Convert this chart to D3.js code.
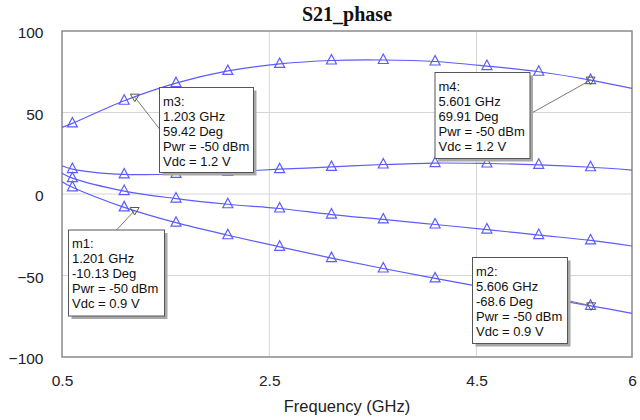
<!DOCTYPE html>
<html>
<head>
<meta charset="utf-8">
<script src="https://cdn.jsdelivr.net/npm/d3@7"></script>
<style>
  html, body { margin: 0; padding: 0; background: #ffffff; }
  svg { display: block; }
</style>
</head>
<body>
<svg id="chart" width="640" height="420"></svg>
<script>
// Frequency grid (GHz) the traces are sampled on
const freqs = [0.5, 0.6, 1.1, 1.6, 2.1, 2.6, 3.1, 3.6, 4.1, 4.6, 5.1, 5.6, 6.0];
// Frequencies that carry a triangle symbol
const symbolFreqs = [0.6, 1.1, 1.6, 2.1, 2.6, 3.1, 3.6, 4.1, 4.6, 5.1, 5.6];

// S21 phase (deg), one trace per bias sweep point
const phaseA = [40.9, 43.3, 57.2, 68.0, 75.5, 79.8, 81.9, 82.2, 81.3, 78.5, 75.0, 69.9, 64.8];
const phaseB = [17.3, 15.3, 12.0, 12.3, 13.6, 15.2, 16.6, 18.1, 19.0, 18.7, 17.9, 16.4, 14.7];
const phaseC = [12.7, 9.7, 1.8, -2.8, -6.3, -8.9, -12.6, -15.6, -18.7, -21.8, -25.2, -28.5, -31.9];
const phaseD = [7.5, 4.1, -8.2, -17.6, -25.3, -32.4, -39.3, -45.7, -51.8, -57.6, -63.2, -68.6, -73.2];
const traces = [phaseA, phaseB, phaseC, phaseD];

// Axis ticks
const xTicks = [0.5, 2.5, 4.5, 6];
const yTicks = [-100, -50, 0, 50, 100];

// Marker readouts
const markerNames = ["m1", "m2", "m3", "m4"];
const markerFreqs = [1.201, 5.606, 1.203, 5.601];
const markerPhases = [-10.13, -68.6, 59.42, 69.91];
const markerPwr = [-50, -50, -50, -50];
const markerVdc = [0.9, 0.9, 1.2, 1.2];

const svg = d3.select("#chart");
const plot = { left: 62, right: 632, top: 31, bottom: 357 };

const x = d3.scaleLinear().domain([0.5, 6]).range([plot.left, plot.right]);
const y = d3.scaleLinear().domain([-100, 100]).range([plot.bottom, plot.top]);

const traceColor = "#5c5cff";

// Title
svg.append("text")
  .attr("x", (plot.left + plot.right) / 2)
  .attr("y", 21)
  .attr("text-anchor", "middle")
  .attr("font-family", "'Liberation Serif', 'Times New Roman', serif")
  .attr("font-weight", "bold")
  .attr("font-size", 20)
  .attr("fill", "#111")
  .text("S21_phase");

// Grid lines at interior ticks
const grid = svg.append("g");
grid.selectAll("line.gx")
  .data(xTicks.filter(t => t > 0.5 && t < 6))
  .join("line")
  .attr("x1", d => x(d)).attr("x2", d => x(d))
  .attr("y1", plot.top).attr("y2", plot.bottom)
  .attr("stroke", "#d6d6d6").attr("stroke-width", 1);
grid.selectAll("line.gy")
  .data(yTicks.filter(t => t > -100 && t < 100))
  .join("line")
  .attr("x1", plot.left).attr("x2", plot.right)
  .attr("y1", d => y(d)).attr("y2", d => y(d))
  .attr("stroke", "#d6d6d6").attr("stroke-width", 1);

// Plot frame
svg.append("rect")
  .attr("x", plot.left).attr("y", plot.top)
  .attr("width", plot.right - plot.left)
  .attr("height", plot.bottom - plot.top)
  .attr("fill", "none")
  .attr("stroke", "#8a8a8a").attr("stroke-width", 1.5);

// Axes: labels only, no tick marks
const xAxis = d3.axisBottom(x).tickValues(xTicks).tickSize(0).tickPadding(0)
  .tickFormat(d3.format("~g"));
const yAxis = d3.axisLeft(y).tickValues(yTicks).tickSize(0).tickPadding(0)
  .tickFormat(d3.format("~g"));

const gx = svg.append("g").attr("transform", `translate(0, ${plot.bottom + 18})`).call(xAxis);
gx.select(".domain").remove();
gx.selectAll("text")
  .attr("font-family", "'Liberation Sans', Arial, sans-serif")
  .attr("font-size", 15.5)
  .attr("fill", "#222")
  .attr("dy", "0.71em");

const gy = svg.append("g").attr("transform", `translate(${plot.left - 18.5}, 0)`).call(yAxis);
gy.select(".domain").remove();
gy.selectAll("text")
  .attr("font-family", "'Liberation Sans', Arial, sans-serif")
  .attr("font-size", 15.5)
  .attr("fill", "#222")
  .attr("dy", "0.45em");

// Axis title
svg.append("text")
  .attr("x", (plot.left + plot.right) / 2)
  .attr("y", 412)
  .attr("text-anchor", "middle")
  .attr("font-family", "'Liberation Sans', Arial, sans-serif")
  .attr("font-size", 16.5)
  .attr("fill", "#222")
  .text("Frequency (GHz)");

// Traces
const line = d3.line()
  .x((d, i) => x(freqs[i]))
  .y(d => y(d))
  .curve(d3.curveCatmullRom.alpha(0.5));

const tracesG = svg.append("g");
tracesG.selectAll("path")
  .data(traces)
  .join("path")
  .attr("d", d => line(d))
  .attr("fill", "none")
  .attr("stroke", traceColor)
  .attr("stroke-width", 1.2);

// Triangle symbols (centroid on the trace)
const tri = "M0,-6 L5,3.5 L-5,3.5 Z";
traces.forEach(vals => {
  tracesG.append("g").selectAll("path")
    .data(symbolFreqs.map(f => ({ f, v: vals[freqs.indexOf(f)] })))
    .join("path")
    .attr("transform", d => `translate(${x(d.f)}, ${y(d.v)})`)
    .attr("d", tri)
    .attr("fill", "none")
    .attr("stroke", traceColor)
    .attr("stroke-width", 1.2);
});

// Marker readout boxes
const boxLayout = {
  m1: { bx: 68.5, by: 230, w: 96, h: 86, ax: 116.5, ay: 230 },
  m2: { bx: 472.5, by: 257.5, w: 95, h: 86, ax: 567.5, ay: 300.5 },
  m3: { bx: 159.5, by: 87.5, w: 94, h: 85, ax: 159.5, ay: 129 },
  m4: { bx: 435, by: 72.5, w: 95, h: 86, ax: 530, ay: 114 }
};

const markersG = svg.append("g");
markerNames.forEach((name, i) => {
  const L = boxLayout[name];
  const px = x(markerFreqs[i]);
  const py = y(markerPhases[i]);
  const g = markersG.append("g");

  // leader line
  g.append("line")
    .attr("x1", L.ax).attr("y1", L.ay)
    .attr("x2", px).attr("y2", py)
    .attr("stroke", "#7a7a7a").attr("stroke-width", 1);

  // inverted triangle at the marker point
  g.append("path")
    .attr("transform", `translate(${px}, ${py})`)
    .attr("d", "M0,4.5 L-4.5,-3 L4.5,-3 Z")
    .attr("fill", "none")
    .attr("stroke", "#555")
    .attr("stroke-width", 1);

  // drop shadow
  g.append("rect")
    .attr("x", L.bx + 3).attr("y", L.by + 3)
    .attr("width", L.w).attr("height", L.h)
    .attr("fill", "#a8a8a8");
  // box
  g.append("rect")
    .attr("x", L.bx).attr("y", L.by)
    .attr("width", L.w).attr("height", L.h)
    .attr("fill", "#ffffff")
    .attr("stroke", "#555").attr("stroke-width", 1);

  const lines = [
    `${name}:`,
    `${markerFreqs[i].toFixed(3)} GHz`,
    `${markerPhases[i]} Deg`,
    `Pwr = ${markerPwr[i]} dBm`,
    `Vdc = ${markerVdc[i]} V`
  ];
  g.append("g").selectAll("text")
    .data(lines)
    .join("text")
    .attr("x", L.bx + 3.5)
    .attr("y", (d, k) => L.by + 13.5 + k * 15)
    .attr("dy", "0.36em")
    .attr("font-family", "'Liberation Sans', Arial, sans-serif")
    .attr("font-size", 13)
    .attr("fill", "#111")
    .text(d => d);
});
</script>
</body>
</html>
